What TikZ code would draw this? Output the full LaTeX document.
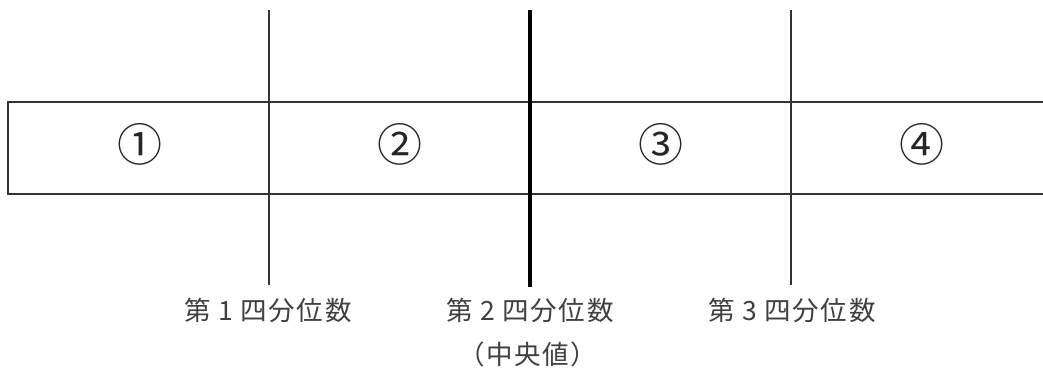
\documentclass[tikz,border=0pt]{standalone}
\usepackage{fontspec}
\newfontfamily\jp{Noto Sans CJK JP}
\newfontfamily\jpwide[LetterSpace=6]{Noto Sans CJK JP}
\begin{document}
\begin{tikzpicture}[x=1pt,y=1pt,
  thinline/.style={draw=black!80, line width=1.4pt},
  thickline/.style={draw=black, line width=3.8pt},
  cellnum/.style={font=\jp\fontsize{45}{47}\selectfont, text=black!85, inner sep=0pt},
  qlabel/.style={font=\jpwide\fontsize{26.5}{28}\selectfont, text=black!75, inner sep=0pt, align=center}]
\useasboundingbox (0,0) rectangle (1043,372);
\clip (0,0) rectangle (1043,372);
% box
\draw[thinline] (8,270) rectangle (1060,178);
% cell numbers
\node[cellnum] (n1) at (139.5,227.5) {①};
\node[cellnum] (n2) at (400,227.5) {②};
\node[cellnum] (n3) at (660.5,227.5) {③};
\node[cellnum] (n4) at (922,227.5) {④};
% quartile lines
\coordinate (q1t) at (269,362); \coordinate (q1b) at (269,87);
\coordinate (q2t) at (530,362); \coordinate (q2b) at (530,85);
\coordinate (q3t) at (791,362); \coordinate (q3b) at (791,87);
\draw[thinline] (q1t) -- (q1b);
\draw[thickline] (q2t) -- (q2b);
\draw[thinline] (q3t) -- (q3b);
% labels
\node[qlabel] (l1) at (268,62) {第 1 四分位数};
\node[qlabel] (l2) at (530,62) {第 2 四分位数};
\node[qlabel] (l2b) at (528,18) {（中央値）};
\node[qlabel] (l3) at (792,62) {第 3 四分位数};
\end{tikzpicture}
\end{document}
